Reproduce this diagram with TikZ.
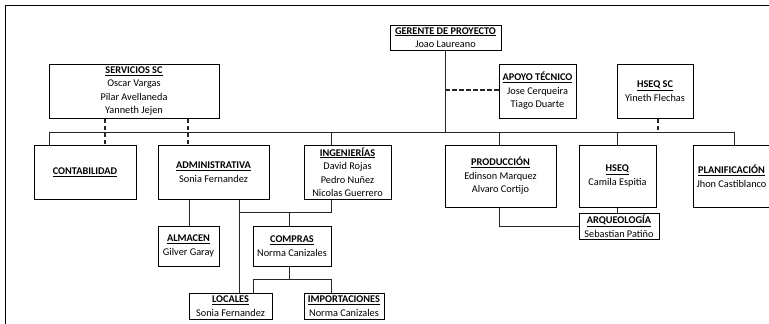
\documentclass[tikz,border=0pt]{standalone}
\usepackage{fontspec}
\setmainfont{Carlito}
\begin{document}
\begin{tikzpicture}[x=1pt,y=-1pt,
  box/.style={draw=black, line width=1pt, inner sep=0pt, align=center,
    font={\fontsize{10.3}{13.5}\selectfont}, text=black},
  conn/.style={draw=black!85, line width=0.9pt},
  dconn/.style={draw=black!85, line width=1.1pt, dash pattern=on 4.5pt off 2.5pt}]
\useasboundingbox (0,0) rectangle (769,324);
\newcommand{\ttl}[1]{\underline{\textbf{#1}}}
% frame
\draw[line width=0.9pt] (5,324) -- (5,5) -- (769,5);
% boxes
\node[box, minimum width=111pt, minimum height=25pt] (ger) at (445.5,37.5) {\ttl{GERENTE DE PROYECTO}\\Joao Laureano};
\node[box, minimum width=170pt, minimum height=54pt] (serv) at (134,91) {\ttl{SERVICIOS SC}\\Oscar Vargas\\Pilar Avellaneda\\Yanneth Jejen};
\node[box, minimum width=77pt, minimum height=54pt] (apoyo) at (537.5,91) {\ttl{APOYO TÉCNICO}\\Jose Cerqueira\\Tiago Duarte};
\node[box, minimum width=76pt, minimum height=54pt] (hsc) at (655,91) {\ttl{HSEQ SC}\\Yineth Flechas};
\node[box, minimum width=102pt, minimum height=54pt] (cont) at (85,172) {\ttl{CONTABILIDAD}};
\node[box, minimum width=111pt, minimum height=54pt] (adm) at (213.5,172) {\ttl{ADMINISTRATIVA}\\Sonia Fernandez};
\node[box, minimum width=87pt, minimum height=54pt] (ing) at (347.5,172) {\ttl{INGENIERÍAS}\\David Rojas\\Pedro Nuñez\\Nicolas Guerrero};
\node[box, minimum width=111pt, minimum height=62pt] (prod) at (500.5,176) {\ttl{PRODUCCIÓN}\\Edinson Marquez\\Alvaro Cortijo};
\node[box, minimum width=77pt, minimum height=62pt] (hseq) at (617.5,176) {\ttl{HSEQ}\\Camila Espitia};
\node[box, minimum width=77pt, minimum height=62pt] (plan) at (731.5,176) {\ttl{PLANIFICACIÓN}\\Jhon Castiblanco};
\node[box, minimum width=80pt, minimum height=26pt] (arq) at (619,226) {\ttl{ARQUEOLOGÍA}\\Sebastian Patiño};
\node[box, minimum width=61pt, minimum height=40pt] (alm) at (188.5,246) {\ttl{ALMACEN}\\Gilver Garay};
\node[box, minimum width=78pt, minimum height=40pt] (comp) at (292,246) {\ttl{COMPRAS}\\Norma Canizales};
\node[box, minimum width=83pt, minimum height=26pt] (loc) at (230.5,306) {\ttl{LOCALES}\\Sonia Fernandez};
\node[box, minimum width=80pt, minimum height=26pt] (imp) at (344,306) {\ttl{IMPORTACIONES}\\Norma Canizales};
% helper coordinates
\coordinate (busL) at (49,132);
\coordinate (busR) at (734,132);
\coordinate (xger) at (445,0);
\coordinate (xd1) at (105,0);
\coordinate (xd2) at (188,0);
\coordinate (xhs) at (658,0);
\coordinate (xing) at (331,0);
\coordinate (xprod) at (499,0);
\coordinate (xhseq) at (617,0);
\coordinate (xalm) at (189,0);
\coordinate (xloc) at (239,0);
\coordinate (xcomp) at (289,0);
\coordinate (xl2) at (253,0);
\coordinate (yi) at (0,212);
\coordinate (yc) at (0,279);
\coordinate (ya) at (0,90);
% connectors
\draw[conn] (busL) -- (busR);
\draw[conn] (ger.south -| xger) -- (busL -| xger);
\draw[dconn] (ya -| xger) -- (ya -| apoyo.west);
\draw[dconn] (serv.south -| xd1) -- (cont.north -| xd1);
\draw[dconn] (serv.south -| xd2) -- (adm.north -| xd2);
\draw[dconn] (hsc.south -| xhs) -- (busL -| xhs);
\draw[conn] (busL) -- (cont.north -| busL);
\draw[conn] (busL -| xing) -- (ing.north -| xing);
\draw[conn] (busL -| xprod) -- (prod.north -| xprod);
\draw[conn] (busL -| xhseq) -- (hseq.north -| xhseq);
\draw[conn] (busR) -- (plan.north -| busR);
\draw[conn] (adm.south -| xalm) -- (alm.north -| xalm);
\draw[conn] (adm.south -| xloc) -- (loc.north -| xloc);
\draw[conn] (ing.south -| xing) -- (yi -| xing) -- (yi -| xloc);
\draw[conn] (yi -| xcomp) -- (comp.north -| xcomp);
\draw[conn] (comp.south -| xcomp) -- (yc -| xcomp);
\draw[conn] (loc.north -| xl2) -- (yc -| xl2) -- (yc -| xing) -- (imp.north -| xing);
\draw[conn] (hseq.south -| xhseq) -- (arq.north -| xhseq);
\draw[conn] (prod.south -| xprod) -- (arq.west -| xprod) -- (arq.west);
\end{tikzpicture}
\end{document}
